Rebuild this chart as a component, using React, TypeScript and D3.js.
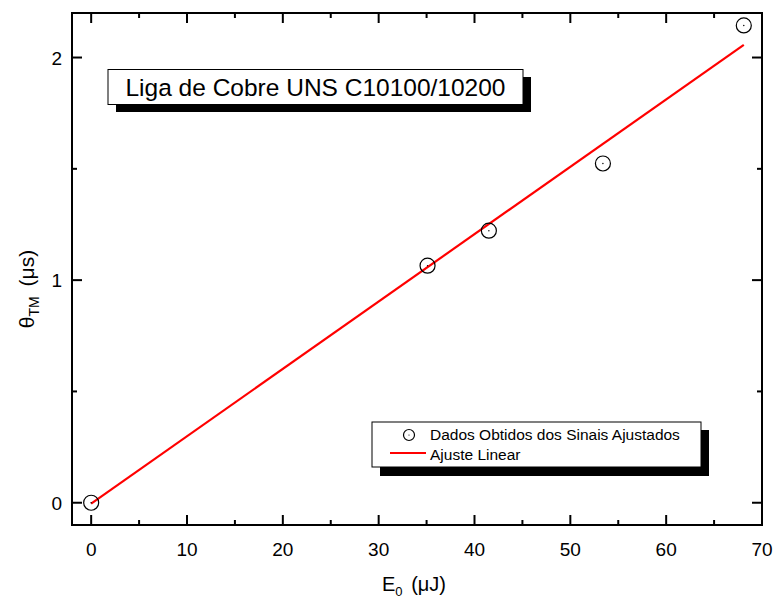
import React from "react";
import * as d3 from "d3";

const dataX = [0, 35.1, 41.5, 53.4, 68.1];
const dataY = [0, 1.065, 1.222, 1.524, 2.144];
const fitX = [0, 68.1];
const fitY = [-0.004, 2.057];
const xMajor = [0, 10, 20, 30, 40, 50, 60, 70];
const xMinor = [5, 15, 25, 35, 45, 55, 65];
const yMajor = [0, 1, 2];
const yMinor = [0.5, 1.5];
const titleText = "Liga de Cobre UNS C10100/10200";
const legendLabels = ["Dados Obtidos dos Sinais Ajustados", "Ajuste Linear"];

const W = 774, H = 598;
const L = 72, R = 762, T = 13, B = 525;
const font = "Arial, 'Liberation Sans', sans-serif";

export default function App() {
  const x = d3.scaleLinear().domain([-2, 70]).range([L, R]);
  const y = d3.scaleLinear().domain([-0.1, 2.2]).range([B, T]);
  const line = d3.line<number>().x((_, i) => x(fitX[i])).y((_, i) => y(fitY[i]));
  const sw = 2;
  return (
    <svg width={W} height={H} style={{ position: "absolute", left: 0, top: 0, background: "#fff" }}>
      <rect x={0} y={0} width={W} height={H} fill="#fff" />
      {/* fit line */}
      <path d={line(fitX) || ""} stroke="#ff0000" strokeWidth={2.2} fill="none" />
      {/* data points */}
      {dataX.map((v, i) => (
        <g key={i}>
          <circle cx={x(v)} cy={y(dataY[i])} r={7.5} fill="none" stroke="#000" strokeWidth={1.2} />
          <circle cx={x(v)} cy={y(dataY[i])} r={0.7} fill="#000" />
        </g>
      ))}
      {/* frame */}
      <rect x={L} y={T} width={R - L} height={B - T} fill="none" stroke="#000" strokeWidth={sw} />
      {/* x ticks */}
      {xMajor.map((v) => (
        <g key={"xm" + v}>
          <line x1={x(v)} x2={x(v)} y1={B} y2={B - 10} stroke="#000" strokeWidth={sw} />
          <line x1={x(v)} x2={x(v)} y1={T} y2={T + 10} stroke="#000" strokeWidth={sw} />
          <text x={x(v)} y={B + 31} textAnchor="middle" fontFamily={font} fontSize={19}>{v}</text>
        </g>
      ))}
      {xMinor.map((v) => (
        <g key={"xn" + v}>
          <line x1={x(v)} x2={x(v)} y1={B} y2={B - 5} stroke="#000" strokeWidth={sw} />
          <line x1={x(v)} x2={x(v)} y1={T} y2={T + 5} stroke="#000" strokeWidth={sw} />
        </g>
      ))}
      {/* y ticks */}
      {yMajor.map((v) => (
        <g key={"ym" + v}>
          <line x1={L} x2={L + 10} y1={y(v)} y2={y(v)} stroke="#000" strokeWidth={sw} />
          <line x1={R} x2={R - 10} y1={y(v)} y2={y(v)} stroke="#000" strokeWidth={sw} />
          <text x={L - 10} y={y(v) + 7} textAnchor="end" fontFamily={font} fontSize={19}>{v}</text>
        </g>
      ))}
      {yMinor.map((v) => (
        <g key={"yn" + v}>
          <line x1={L} x2={L + 5} y1={y(v)} y2={y(v)} stroke="#000" strokeWidth={sw} />
          <line x1={R} x2={R - 5} y1={y(v)} y2={y(v)} stroke="#000" strokeWidth={sw} />
        </g>
      ))}
      {/* axis labels */}
      <text x={382} y={591} fontFamily={font} fontSize={20}>
        E<tspan fontSize={13} dy={5}>0</tspan><tspan dy={-5} dx={3}> (μJ)</tspan>
      </text>
      <text transform="translate(34,289) rotate(-90)" textAnchor="middle" fontFamily={font} fontSize={21}>
        θ<tspan fontSize={14} dy={5}>TM</tspan><tspan dy={-5} dx={4}> (μs)</tspan>
      </text>
      {/* title box */}
      <rect x={116} y={77} width={415} height={35} fill="#000" />
      <rect x={108} y={69.5} width={415} height={35} fill="#fff" stroke="#000" strokeWidth={1} />
      <text x={315.5} y={96} textAnchor="middle" fontFamily={font} fontSize={24.5}>{titleText}</text>
      {/* legend */}
      <rect x={380} y={430} width={329} height={46} fill="#000" />
      <rect x={372} y={422} width={329} height={45} fill="#fff" stroke="#000" strokeWidth={1} />
      <circle cx={409} cy={435} r={5.5} fill="none" stroke="#000" strokeWidth={1.2} />
      <circle cx={409} cy={435} r={0.6} fill="#000" />
      <text x={430} y={440} fontFamily={font} fontSize={15.5}>{legendLabels[0]}</text>
      <line x1={390} x2={426} y1={453} y2={453} stroke="#ff0000" strokeWidth={2.2} />
      <text x={430} y={459.5} fontFamily={font} fontSize={15.5}>{legendLabels[1]}</text>
    </svg>
  );
}
